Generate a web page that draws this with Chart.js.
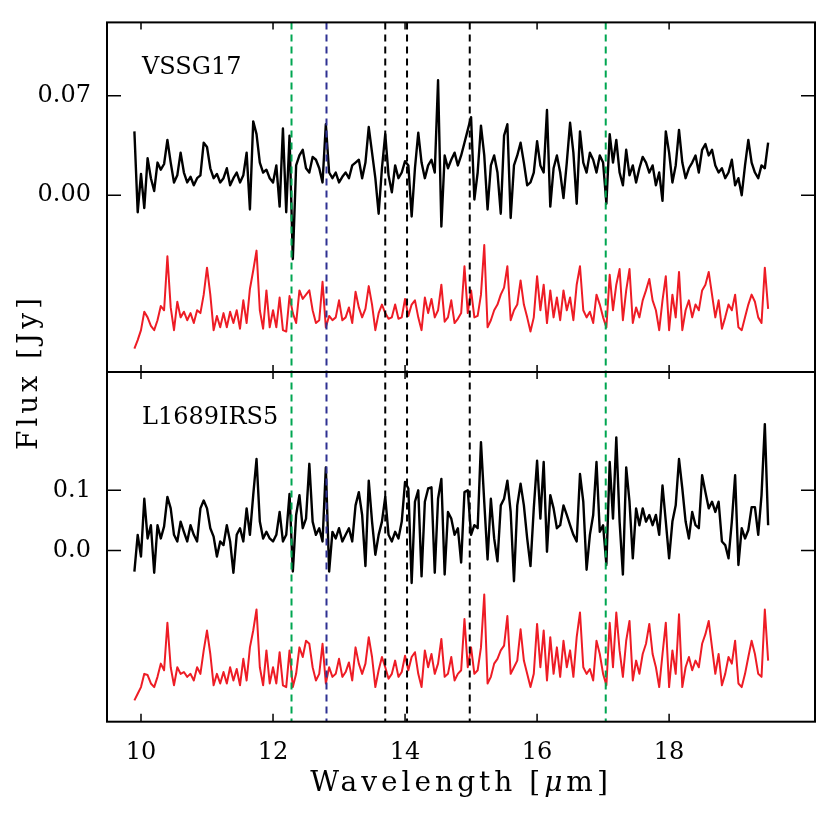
<!DOCTYPE html>
<html>
<head>
<meta charset="utf-8">
<script src="https://cdn.jsdelivr.net/npm/chart.js@4/dist/chart.umd.min.js"></script>
<style>
  html, body { margin: 0; padding: 0; background: #fff; }
</style>
</head>
<body>
<canvas id="chart" width="830" height="830"></canvas>
<script>
// wavelength grid (micron), shared by all four spectra
const wavelength = [
  9.90, 9.95, 10.00, 10.05, 10.10, 10.15, 10.20, 10.25, 10.30, 10.35,
  10.40, 10.45, 10.50, 10.55, 10.60, 10.65, 10.70, 10.75, 10.80, 10.85,
  10.90, 10.95, 11.00, 11.05, 11.10, 11.15, 11.20, 11.25, 11.30, 11.35,
  11.40, 11.45, 11.50, 11.55, 11.60, 11.65, 11.70, 11.75, 11.80, 11.85,
  11.90, 11.95, 12.00, 12.05, 12.10, 12.15, 12.20, 12.25, 12.30, 12.35,
  12.40, 12.45, 12.50, 12.55, 12.60, 12.65, 12.70, 12.75, 12.80, 12.85,
  12.90, 12.95, 13.00, 13.05, 13.10, 13.15, 13.20, 13.25, 13.30, 13.35,
  13.40, 13.45, 13.50, 13.55, 13.60, 13.65, 13.70, 13.75, 13.80, 13.85,
  13.90, 13.95, 14.00, 14.05, 14.10, 14.15, 14.20, 14.25, 14.30, 14.35,
  14.40, 14.45, 14.50, 14.55, 14.60, 14.65, 14.70, 14.75, 14.80, 14.85,
  14.90, 14.95, 15.00, 15.05, 15.10, 15.15, 15.20, 15.25, 15.30, 15.35,
  15.40, 15.45, 15.50, 15.55, 15.60, 15.65, 15.70, 15.75, 15.80, 15.85,
  15.90, 15.95, 16.00, 16.05, 16.10, 16.15, 16.20, 16.25, 16.30, 16.35,
  16.40, 16.45, 16.50, 16.55, 16.60, 16.65, 16.70, 16.75, 16.80, 16.85,
  16.90, 16.95, 17.00, 17.05, 17.10, 17.15, 17.20, 17.25, 17.30, 17.35,
  17.40, 17.45, 17.50, 17.55, 17.60, 17.65, 17.70, 17.75, 17.80, 17.85,
  17.90, 17.95, 18.00, 18.05, 18.10, 18.15, 18.20, 18.25, 18.30, 18.35,
  18.40, 18.45, 18.50, 18.55, 18.60, 18.65, 18.70, 18.75, 18.80, 18.85,
  18.90, 18.95, 19.00, 19.05, 19.10, 19.15, 19.20, 19.25, 19.30, 19.35,
  19.40, 19.45, 19.50
];

// VSSG17: observed (black) and model, shifted down (red), in Jy
const vssgFlux = [
  0.045, -0.012, 0.015, -0.009, 0.026, 0.012, 0.003, 0.023, 0.018, 0.022,
  0.039, 0.023, 0.009, 0.014, 0.030, 0.016, 0.009, 0.013, 0.007, 0.012,
  0.014, 0.037, 0.034, 0.019, 0.012, 0.015, 0.009, 0.012, 0.019, 0.007,
  0.012, 0.016, 0.009, 0.014, 0.030, -0.010, 0.052, 0.043, 0.023, 0.016,
  0.018, 0.012, 0.009, 0.021, -0.008, 0.047, -0.012, 0.042, -0.045, 0.021,
  0.028, 0.032, 0.019, 0.016, 0.027, 0.025, 0.019, 0.009, 0.050, 0.016,
  0.012, 0.016, 0.009, 0.013, 0.016, 0.012, 0.021, 0.023, 0.025, 0.012,
  0.023, 0.048, 0.030, 0.012, -0.013, 0.019, 0.043, 0.014, 0.002, 0.021,
  0.012, 0.016, 0.024, 0.021, -0.015, 0.019, 0.044, 0.023, 0.012, 0.021,
  0.025, 0.016, 0.081, -0.022, 0.028, 0.019, 0.025, 0.030, 0.021, 0.028,
  0.037, 0.046, 0.055, -0.003, 0.016, 0.049, 0.028, -0.010, 0.021, 0.028,
  0.016, -0.013, 0.042, 0.050, -0.016, 0.021, 0.028, 0.037, 0.023, 0.007,
  0.009, 0.016, 0.038, 0.021, 0.016, 0.060, -0.008, 0.019, 0.028, 0.016,
  -0.002, 0.023, 0.051, 0.030, -0.006, 0.045, 0.023, 0.016, 0.030, 0.025,
  0.016, 0.028, 0.023, -0.006, 0.043, 0.023, 0.039, 0.016, 0.007, 0.032,
  0.014, 0.021, 0.009, 0.019, 0.027, 0.023, 0.016, 0.021, 0.007, 0.016,
  -0.004, 0.045, 0.030, 0.009, 0.021, 0.046, 0.023, 0.012, 0.019, 0.023,
  0.028, 0.016, 0.032, 0.036, 0.028, 0.032, 0.021, 0.016, 0.019, 0.012,
  0.016, 0.025, 0.007, 0.012, 0.000, 0.021, 0.039, 0.023, 0.016, 0.012,
  0.021, 0.019, 0.037
];
const vssgModel = [
  -0.108, -0.102, -0.095, -0.082, -0.086, -0.092, -0.095, -0.088, -0.078, -0.081,
  -0.043, -0.079, -0.095, -0.075, -0.086, -0.082, -0.088, -0.083, -0.090, -0.081,
  -0.083, -0.070, -0.051, -0.070, -0.095, -0.085, -0.093, -0.083, -0.093, -0.082,
  -0.090, -0.081, -0.094, -0.074, -0.090, -0.066, -0.053, -0.039, -0.081, -0.094,
  -0.067, -0.093, -0.081, -0.093, -0.072, -0.095, -0.096, -0.071, -0.083, -0.090,
  -0.067, -0.073, -0.070, -0.067, -0.081, -0.090, -0.088, -0.061, -0.093, -0.085,
  -0.088, -0.086, -0.074, -0.088, -0.086, -0.079, -0.090, -0.068, -0.079, -0.086,
  -0.080, -0.064, -0.077, -0.095, -0.083, -0.077, -0.083, -0.087, -0.086, -0.077,
  -0.087, -0.086, -0.073, -0.085, -0.077, -0.074, -0.086, -0.095, -0.072, -0.083,
  -0.073, -0.086, -0.081, -0.063, -0.089, -0.086, -0.074, -0.090, -0.087, -0.083,
  -0.050, -0.083, -0.067, -0.086, -0.085, -0.070, -0.035, -0.093, -0.088, -0.081,
  -0.077, -0.070, -0.065, -0.050, -0.088, -0.081, -0.077, -0.060, -0.077, -0.086,
  -0.096, -0.086, -0.057, -0.081, -0.063, -0.090, -0.067, -0.086, -0.072, -0.088,
  -0.067, -0.081, -0.072, -0.088, -0.063, -0.050, -0.081, -0.086, -0.082, -0.090,
  -0.070, -0.077, -0.086, -0.093, -0.056, -0.081, -0.063, -0.052, -0.088, -0.067,
  -0.052, -0.090, -0.079, -0.086, -0.074, -0.067, -0.059, -0.074, -0.081, -0.095,
  -0.074, -0.057, -0.095, -0.070, -0.086, -0.054, -0.095, -0.081, -0.074, -0.086,
  -0.077, -0.081, -0.067, -0.063, -0.054, -0.070, -0.086, -0.074, -0.094, -0.086,
  -0.077, -0.081, -0.070, -0.093, -0.095, -0.086, -0.077, -0.070, -0.075, -0.086,
  -0.090, -0.051, -0.080
];

// L1689IRS5: observed (black) and model, shifted down (red), in Jy
const irsFlux = [
  -0.035, 0.026, -0.010, 0.086, 0.020, 0.042, -0.037, 0.042, 0.020, 0.040,
  0.089, 0.070, 0.026, 0.015, 0.048, 0.031, 0.015, 0.042, 0.026, 0.015,
  0.070, 0.083, 0.070, 0.037, 0.023, -0.010, 0.015, 0.009, 0.042, 0.015,
  -0.037, 0.026, 0.037, 0.015, 0.070, 0.026, 0.092, 0.152, 0.048, 0.020,
  0.031, 0.020, 0.015, 0.026, 0.064, 0.015, 0.026, 0.094, -0.035, 0.059,
  0.092, 0.037, 0.053, 0.144, 0.048, 0.026, 0.037, 0.015, 0.138, -0.035,
  0.031, 0.020, 0.037, 0.015, 0.026, 0.037, 0.015, 0.075, 0.097, 0.059,
  -0.026, 0.116, 0.048, -0.007, 0.026, 0.048, 0.089, 0.026, 0.015, 0.031,
  0.020, 0.048, 0.114, 0.103, -0.054, 0.081, 0.100, -0.043, 0.081, 0.103,
  0.105, -0.037, 0.086, 0.119, -0.040, 0.064, 0.053, 0.026, 0.037, -0.020,
  0.097, 0.100, 0.026, 0.042, 0.037, 0.180, 0.080, -0.015, 0.086, 0.020,
  -0.018, 0.075, 0.086, 0.116, 0.064, -0.051, 0.075, 0.111, 0.075, 0.020,
  -0.026, 0.070, 0.149, 0.053, 0.147, -0.002, 0.092, 0.070, 0.037, 0.042,
  0.075, 0.059, 0.042, 0.026, 0.015, 0.127, 0.081, -0.032, 0.026, 0.059,
  0.147, 0.031, 0.042, -0.024, 0.147, 0.053, 0.188, 0.048, -0.040, 0.138,
  0.081, -0.013, 0.070, 0.042, 0.070, 0.048, 0.059, 0.042, 0.059, 0.026,
  0.108, 0.048, -0.013, 0.048, 0.075, 0.152, 0.103, 0.048, 0.020, 0.064,
  0.042, 0.037, 0.125, 0.097, 0.070, 0.081, 0.064, 0.081, 0.015, 0.009,
  -0.013, 0.048, 0.125, -0.024, 0.037, 0.020, 0.034, 0.072, 0.072, 0.026,
  0.092, 0.210, 0.042
];
const irsModel = [
  -0.249, -0.238, -0.227, -0.205, -0.207, -0.221, -0.227, -0.210, -0.188, -0.199,
  -0.120, -0.194, -0.224, -0.194, -0.205, -0.202, -0.210, -0.205, -0.216, -0.194,
  -0.205, -0.166, -0.133, -0.172, -0.224, -0.205, -0.221, -0.202, -0.221, -0.194,
  -0.216, -0.197, -0.224, -0.180, -0.216, -0.161, -0.133, -0.098, -0.194, -0.224,
  -0.166, -0.221, -0.194, -0.221, -0.169, -0.224, -0.227, -0.166, -0.227, -0.205,
  -0.161, -0.177, -0.150, -0.155, -0.194, -0.216, -0.205, -0.155, -0.221, -0.194,
  -0.210, -0.205, -0.180, -0.210, -0.202, -0.186, -0.216, -0.161, -0.188, -0.205,
  -0.188, -0.144, -0.177, -0.227, -0.199, -0.177, -0.194, -0.213, -0.205, -0.183,
  -0.210, -0.202, -0.175, -0.199, -0.177, -0.169, -0.205, -0.227, -0.166, -0.194,
  -0.172, -0.205, -0.188, -0.147, -0.210, -0.205, -0.177, -0.216, -0.205, -0.199,
  -0.114, -0.194, -0.161, -0.205, -0.199, -0.161, -0.073, -0.221, -0.210, -0.188,
  -0.180, -0.166, -0.158, -0.109, -0.205, -0.194, -0.183, -0.131, -0.183, -0.205,
  -0.227, -0.205, -0.122, -0.194, -0.133, -0.216, -0.144, -0.205, -0.161, -0.210,
  -0.150, -0.194, -0.166, -0.210, -0.144, -0.103, -0.194, -0.205, -0.197, -0.216,
  -0.150, -0.172, -0.205, -0.224, -0.120, -0.194, -0.103, -0.166, -0.210, -0.150,
  -0.117, -0.216, -0.183, -0.205, -0.172, -0.155, -0.122, -0.172, -0.194, -0.227,
  -0.172, -0.120, -0.227, -0.166, -0.205, -0.106, -0.227, -0.194, -0.177, -0.199,
  -0.183, -0.194, -0.155, -0.139, -0.117, -0.161, -0.205, -0.172, -0.224, -0.205,
  -0.177, -0.188, -0.150, -0.221, -0.227, -0.205, -0.177, -0.150, -0.172, -0.205,
  -0.210, -0.098, -0.183
];

const panelNames = ['VSSG17', 'L1689IRS5'];
const lineWaves = [12.28, 12.81, 13.70, 14.03, 14.98, 17.04];
const xTicks = [10, 12, 14, 16, 18];
const topTicks = [0.00, 0.07];
const bottomTicks = [0.0, 0.1];
const xTitle = ['Wavelength [', 'μ', 'm]'];
const yTitle = 'Flux [Jy]';

const FONT = '"DejaVu Serif", serif';
const lineColors = ['#00a651', '#2e3192', '#000000', '#000000', '#000000', '#00a651'];
const RED = '#ee1c25';

function pts(ys) {
  return wavelength.map((w, i) => ({ x: w, y: ys[i] }));
}

// frame, inward ticks, dashed line markers and text, IDL style
const framePlugin = {
  id: 'frame',
  afterDatasetsDraw(chart) {
    const { ctx, chartArea: a, scales } = chart;
    const x = scales.x, yT = scales.yTop, yB = scales.yBottom;
    const mid = yT.bottom;
    ctx.save();

    ctx.lineWidth = 2;
    ctx.setLineDash([7, 5]);
    lineWaves.forEach((w, i) => {
      const px = x.getPixelForValue(w);
      ctx.strokeStyle = lineColors[i];
      ctx.beginPath();
      ctx.moveTo(px, a.top);
      ctx.lineTo(px, a.bottom);
      ctx.stroke();
    });
    ctx.setLineDash([]);

    ctx.strokeStyle = '#000';
    ctx.lineWidth = 2;
    ctx.strokeRect(a.left, a.top, a.right - a.left, a.bottom - a.top);
    ctx.beginPath();
    ctx.moveTo(a.left, mid);
    ctx.lineTo(a.right, mid);
    ctx.stroke();

    ctx.lineWidth = 1.5;
    ctx.beginPath();
    xTicks.forEach(v => {
      const px = x.getPixelForValue(v);
      ctx.moveTo(px, a.top); ctx.lineTo(px, a.top + 7);
      ctx.moveTo(px, mid - 7); ctx.lineTo(px, mid + 7);
      ctx.moveTo(px, a.bottom); ctx.lineTo(px, a.bottom - 8);
    });
    [[yT, topTicks], [yB, bottomTicks]].forEach(([s, t]) => t.forEach(v => {
      const py = s.getPixelForValue(v);
      ctx.moveTo(a.left, py); ctx.lineTo(a.left + 14, py);
      ctx.moveTo(a.right, py); ctx.lineTo(a.right - 14, py);
    }));
    ctx.stroke();

    ctx.fillStyle = '#000';
    ctx.textBaseline = 'alphabetic';
    ctx.textAlign = 'left';
    ctx.font = '24px ' + FONT;
    ctx.fillText(panelNames[0], a.left + 35, yT.top + 52);
    ctx.fillText(panelNames[1], a.left + 35, yB.top + 52);

    // x title, mu in italic
    ctx.letterSpacing = '4px';
    const fonts = ['28px ' + FONT, 'italic 28px ' + FONT, '28px ' + FONT];
    let total = 0;
    const widths = xTitle.map((t, i) => {
      ctx.font = fonts[i];
      const w = ctx.measureText(t).width;
      total += w;
      return w;
    });
    let tx = (a.left + a.right) / 2 - total / 2;
    xTitle.forEach((t, i) => {
      ctx.font = fonts[i];
      ctx.fillText(t, tx, 791);
      tx += widths[i];
    });

    ctx.translate(37, (a.top + a.bottom) / 2);
    ctx.rotate(-Math.PI / 2);
    ctx.textAlign = 'center';
    ctx.font = '28px ' + FONT;
    ctx.fillText(yTitle, 0, 0);
    ctx.restore();
  }
};

const tickFont = { family: FONT, size: 24 };

new Chart(document.getElementById('chart'), {
  type: 'line',
  data: {
    datasets: [
      { data: pts(vssgFlux), yAxisID: 'yTop', borderColor: '#000', borderWidth: 2.4 },
      { data: pts(vssgModel), yAxisID: 'yTop', borderColor: RED, borderWidth: 2 },
      { data: pts(irsFlux), yAxisID: 'yBottom', borderColor: '#000', borderWidth: 2.4 },
      { data: pts(irsModel), yAxisID: 'yBottom', borderColor: RED, borderWidth: 2 }
    ]
  },
  options: {
    responsive: false,
    animation: false,
    layout: { padding: { left: 0, right: 15, top: 15, bottom: 0 } },
    elements: {
      point: { radius: 0 },
      line: { tension: 0, fill: false, borderJoinStyle: 'round' }
    },
    plugins: { legend: { display: false }, tooltip: { enabled: false } },
    scales: {
      x: {
        type: 'linear',
        position: 'bottom',
        min: 9.485,
        max: 20.21,
        grid: { display: false },
        border: { display: false },
        ticks: { font: tickFont, color: '#000', padding: 9, maxRotation: 0 },
        afterBuildTicks: s => { s.ticks = xTicks.map(v => ({ value: v })); },
        afterFit: s => { s.height = 108.3; }
      },
      yBottom: {
        type: 'linear',
        position: 'left',
        stack: 'panels',
        stackWeight: 1,
        min: -0.2845,
        max: 0.2965,
        grid: { display: false },
        border: { display: false },
        ticks: { font: tickFont, color: '#000', padding: 8, callback: v => v.toFixed(1) },
        afterBuildTicks: s => { s.ticks = bottomTicks.map(v => ({ value: v })); },
        afterFit: s => { s.width = 107; }
      },
      yTop: {
        type: 'linear',
        position: 'left',
        stack: 'panels',
        stackWeight: 1,
        min: -0.1245,
        max: 0.1217,
        grid: { display: false },
        border: { display: false },
        ticks: { font: tickFont, color: '#000', padding: 8, callback: v => v.toFixed(2) },
        afterBuildTicks: s => { s.ticks = topTicks.map(v => ({ value: v })); },
        afterFit: s => { s.width = 107; }
      }
    }
  },
  plugins: [framePlugin]
});
</script>
</body>
</html>
